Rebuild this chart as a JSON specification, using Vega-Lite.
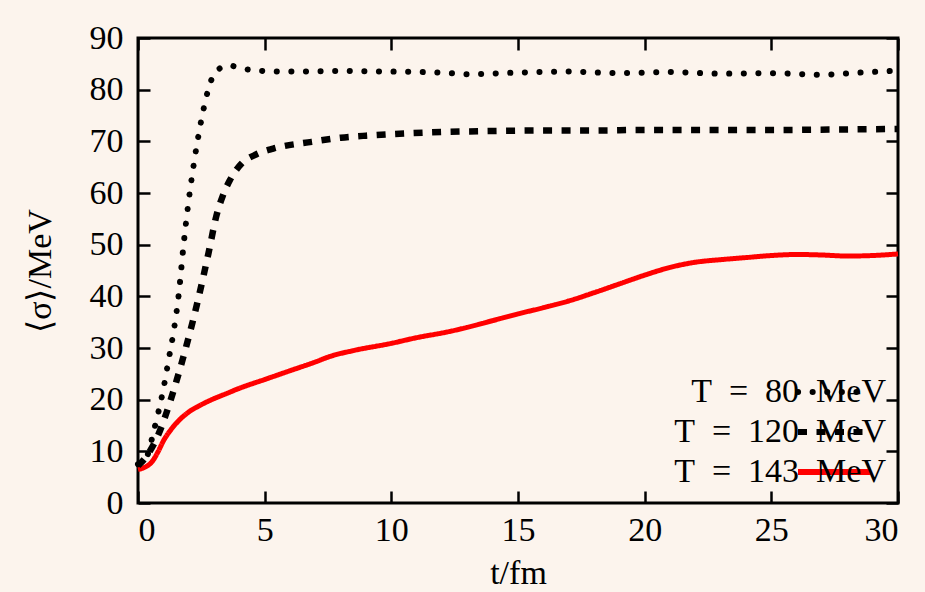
{
  "$schema": "https://vega.github.io/schema/vega-lite/v6.json",
  "width": 760,
  "height": 465,
  "autosize": {"type": "none"},
  "padding": {"left": 138, "top": 38, "right": 27, "bottom": 89},
  "background": "#fcf4ed",
  "config": {
    "view": {"stroke": "#000000", "strokeWidth": 3},
    "font": "Liberation Serif",
    "axis": {
      "domain": false, "grid": false,
      "tickColor": "#000000", "tickWidth": 2.5, "tickSize": -12,
      "labelFontSize": 34, "labelColor": "#000000", "labelFont": "Liberation Serif",
      "titleFontSize": 34, "titleColor": "#000000", "titleFont": "Liberation Serif", "titleFontWeight": "normal",
      "labelPadding": 27
    }
  },
  "data": {"values": [
    {"t": 0, "s": 7.5, "T": "T = 80 MeV"},
    {"t": 0.2, "s": 8.2, "T": "T = 80 MeV"},
    {"t": 0.4, "s": 9.6, "T": "T = 80 MeV"},
    {"t": 0.6, "s": 13.5, "T": "T = 80 MeV"},
    {"t": 0.8, "s": 17.5, "T": "T = 80 MeV"},
    {"t": 1.0, "s": 22, "T": "T = 80 MeV"},
    {"t": 1.2, "s": 27.5, "T": "T = 80 MeV"},
    {"t": 1.4, "s": 33, "T": "T = 80 MeV"},
    {"t": 1.6, "s": 40, "T": "T = 80 MeV"},
    {"t": 1.8, "s": 50, "T": "T = 80 MeV"},
    {"t": 2.0, "s": 58.5, "T": "T = 80 MeV"},
    {"t": 2.2, "s": 65.5, "T": "T = 80 MeV"},
    {"t": 2.4, "s": 71.5, "T": "T = 80 MeV"},
    {"t": 2.6, "s": 76.5, "T": "T = 80 MeV"},
    {"t": 2.8, "s": 80.5, "T": "T = 80 MeV"},
    {"t": 3.0, "s": 83, "T": "T = 80 MeV"},
    {"t": 3.3, "s": 84.3, "T": "T = 80 MeV"},
    {"t": 3.6, "s": 84.7, "T": "T = 80 MeV"},
    {"t": 4.0, "s": 84.2, "T": "T = 80 MeV"},
    {"t": 4.5, "s": 83.8, "T": "T = 80 MeV"},
    {"t": 5, "s": 83.6, "T": "T = 80 MeV"},
    {"t": 6, "s": 83.5, "T": "T = 80 MeV"},
    {"t": 8, "s": 83.6, "T": "T = 80 MeV"},
    {"t": 10, "s": 83.5, "T": "T = 80 MeV"},
    {"t": 12, "s": 83.3, "T": "T = 80 MeV"},
    {"t": 13, "s": 83.0, "T": "T = 80 MeV"},
    {"t": 15, "s": 83.3, "T": "T = 80 MeV"},
    {"t": 17, "s": 83.5, "T": "T = 80 MeV"},
    {"t": 19, "s": 83.2, "T": "T = 80 MeV"},
    {"t": 21, "s": 83.4, "T": "T = 80 MeV"},
    {"t": 23, "s": 83.1, "T": "T = 80 MeV"},
    {"t": 25, "s": 83.2, "T": "T = 80 MeV"},
    {"t": 27, "s": 82.9, "T": "T = 80 MeV"},
    {"t": 28.5, "s": 83.3, "T": "T = 80 MeV"},
    {"t": 30, "s": 83.7, "T": "T = 80 MeV"},
    {"t": 0, "s": 7.2, "T": "T = 120 MeV"},
    {"t": 0.4, "s": 9.5, "T": "T = 120 MeV"},
    {"t": 0.8, "s": 13.2, "T": "T = 120 MeV"},
    {"t": 1.07, "s": 16.7, "T": "T = 120 MeV"},
    {"t": 1.53, "s": 23.8, "T": "T = 120 MeV"},
    {"t": 1.92, "s": 30.6, "T": "T = 120 MeV"},
    {"t": 2.32, "s": 38.3, "T": "T = 120 MeV"},
    {"t": 2.78, "s": 48.3, "T": "T = 120 MeV"},
    {"t": 3.1, "s": 55.7, "T": "T = 120 MeV"},
    {"t": 3.35, "s": 59.5, "T": "T = 120 MeV"},
    {"t": 3.63, "s": 62.5, "T": "T = 120 MeV"},
    {"t": 4.09, "s": 65.7, "T": "T = 120 MeV"},
    {"t": 4.68, "s": 67.5, "T": "T = 120 MeV"},
    {"t": 5.34, "s": 68.6, "T": "T = 120 MeV"},
    {"t": 6.86, "s": 69.9, "T": "T = 120 MeV"},
    {"t": 8, "s": 70.7, "T": "T = 120 MeV"},
    {"t": 9, "s": 71.1, "T": "T = 120 MeV"},
    {"t": 10, "s": 71.4, "T": "T = 120 MeV"},
    {"t": 12, "s": 71.8, "T": "T = 120 MeV"},
    {"t": 14, "s": 72.0, "T": "T = 120 MeV"},
    {"t": 16, "s": 72.1, "T": "T = 120 MeV"},
    {"t": 18, "s": 72.1, "T": "T = 120 MeV"},
    {"t": 20, "s": 72.2, "T": "T = 120 MeV"},
    {"t": 22, "s": 72.2, "T": "T = 120 MeV"},
    {"t": 25, "s": 72.2, "T": "T = 120 MeV"},
    {"t": 28, "s": 72.3, "T": "T = 120 MeV"},
    {"t": 30, "s": 72.4, "T": "T = 120 MeV"},
    {"t": 0, "s": 6.5, "T": "T = 143 MeV"},
    {"t": 0.3, "s": 7.0, "T": "T = 143 MeV"},
    {"t": 0.54, "s": 7.9, "T": "T = 143 MeV"},
    {"t": 0.8, "s": 10, "T": "T = 143 MeV"},
    {"t": 1.0, "s": 12, "T": "T = 143 MeV"},
    {"t": 1.3, "s": 14.2, "T": "T = 143 MeV"},
    {"t": 1.66, "s": 16.2, "T": "T = 143 MeV"},
    {"t": 2.0, "s": 17.6, "T": "T = 143 MeV"},
    {"t": 2.45, "s": 18.9, "T": "T = 143 MeV"},
    {"t": 3.0, "s": 20.2, "T": "T = 143 MeV"},
    {"t": 3.5, "s": 21.2, "T": "T = 143 MeV"},
    {"t": 4.0, "s": 22.2, "T": "T = 143 MeV"},
    {"t": 5, "s": 23.9, "T": "T = 143 MeV"},
    {"t": 6, "s": 25.6, "T": "T = 143 MeV"},
    {"t": 7, "s": 27.3, "T": "T = 143 MeV"},
    {"t": 7.6, "s": 28.4, "T": "T = 143 MeV"},
    {"t": 8.5, "s": 29.5, "T": "T = 143 MeV"},
    {"t": 10, "s": 30.9, "T": "T = 143 MeV"},
    {"t": 11, "s": 32.0, "T": "T = 143 MeV"},
    {"t": 12.2, "s": 33.1, "T": "T = 143 MeV"},
    {"t": 13, "s": 34.0, "T": "T = 143 MeV"},
    {"t": 14, "s": 35.3, "T": "T = 143 MeV"},
    {"t": 15, "s": 36.6, "T": "T = 143 MeV"},
    {"t": 16, "s": 37.8, "T": "T = 143 MeV"},
    {"t": 17, "s": 39.1, "T": "T = 143 MeV"},
    {"t": 18, "s": 40.7, "T": "T = 143 MeV"},
    {"t": 19, "s": 42.4, "T": "T = 143 MeV"},
    {"t": 20, "s": 44.1, "T": "T = 143 MeV"},
    {"t": 21, "s": 45.6, "T": "T = 143 MeV"},
    {"t": 22, "s": 46.6, "T": "T = 143 MeV"},
    {"t": 23, "s": 47.1, "T": "T = 143 MeV"},
    {"t": 24, "s": 47.5, "T": "T = 143 MeV"},
    {"t": 25, "s": 47.9, "T": "T = 143 MeV"},
    {"t": 26, "s": 48.1, "T": "T = 143 MeV"},
    {"t": 27, "s": 48.0, "T": "T = 143 MeV"},
    {"t": 28, "s": 47.8, "T": "T = 143 MeV"},
    {"t": 29, "s": 47.9, "T": "T = 143 MeV"},
    {"t": 30, "s": 48.2, "T": "T = 143 MeV"}
  ]},
  "layer": [
    {
      "encoding": {
        "x": {"field": "t", "type": "quantitative", "scale": {"domain": [0, 30], "nice": false, "zero": false},
              "axis": {"orient": "bottom", "values": [0, 5, 10, 15, 20, 25, 30], "title": "t/fm", "titlePadding": 9, "labelPadding": 22}},
        "y": {"field": "s", "type": "quantitative", "scale": {"domain": [0, 90], "nice": false},
              "axis": {"orient": "left", "values": [0, 10, 20, 30, 40, 50, 60, 70, 80, 90], "title": "⟨σ⟩/MeV", "titlePadding": 32}},
        "color": {"field": "T", "type": "nominal",
          "scale": {"domain": ["T = 80 MeV", "T = 120 MeV", "T = 143 MeV"], "range": ["#000000", "#000000", "#ff0000"]},
          "legend": {
            "title": null, "orient": "none", "legendX": 410, "legendY": 337, "padding": 0,
            "symbolType": "stroke", "symbolSize": 5329, "symbolStrokeWidth": 6, "symbolOffset": 247,
            "clipHeight": 34, "rowPadding": 6,
            "labelAlign": "right", "labelOffset": 12, "labelFontSize": 34, "labelFont": "Liberation Serif",
            "labelColor": "#000000", "labelLimit": 0,
            "labelExpr": "replace(replace(datum.label, ' = ', '\u2002=\u2002'), ' MeV', '\u2002MeV') + '\u2003\u2003\u2003'",
            "encode": {"symbols": {"update": {
              "opacity": {"value": 1},
              "stroke": {"scale": "color", "field": "value"},
              "strokeDash": {"scale": "strokeDash", "field": "value"},
              "strokeWidth": {"value": 6},
              "strokeCap": {"signal": "datum.value == 'T = 80 MeV' ? 'round' : 'butt'"}}}}
          }},
        "strokeDash": {"field": "T", "type": "nominal",
          "scale": {"domain": ["T = 80 MeV", "T = 120 MeV", "T = 143 MeV"], "range": [[0.1, 14.5], [9, 9.5], [1, 0]]},
          "legend": {
            "title": null, "orient": "none", "legendX": 410, "legendY": 337, "padding": 0,
            "symbolType": "stroke", "symbolSize": 5329, "symbolStrokeWidth": 6, "symbolOffset": 247,
            "clipHeight": 34, "rowPadding": 6,
            "labelAlign": "right", "labelOffset": 12, "labelFontSize": 34, "labelFont": "Liberation Serif",
            "labelColor": "#000000", "labelLimit": 0,
            "labelExpr": "replace(replace(datum.label, ' = ', '\u2002=\u2002'), ' MeV', '\u2002MeV') + '\u2003\u2003\u2003'",
            "encode": {"symbols": {"update": {
              "opacity": {"value": 1},
              "stroke": {"scale": "color", "field": "value"},
              "strokeDash": {"scale": "strokeDash", "field": "value"},
              "strokeWidth": {"value": 6},
              "strokeCap": {"signal": "datum.value == 'T = 80 MeV' ? 'round' : 'butt'"}}}}
          }}
      },
      "layer": [
        {"transform": [{"filter": "datum.T == 'T = 143 MeV'"}],
         "mark": {"type": "line", "strokeWidth": 5, "interpolate": "monotone", "strokeCap": "butt"}},
        {"transform": [{"filter": "datum.T == 'T = 120 MeV'"}],
         "mark": {"type": "line", "strokeWidth": 6.5, "interpolate": "monotone", "strokeCap": "butt"}},
        {"transform": [{"filter": "datum.T == 'T = 80 MeV'"}],
         "mark": {"type": "line", "strokeWidth": 6, "interpolate": "monotone", "strokeCap": "round"}}
      ]
    },
    {
      "transform": [{"filter": "datum.T == 'T = 143 MeV'"}],
      "mark": {"type": "line", "opacity": 0},
      "encoding": {
        "x": {"field": "t", "type": "quantitative", "scale": {"domain": [0, 30], "nice": false, "zero": false},
              "axis": {"orient": "top", "values": [0, 5, 10, 15, 20, 25, 30], "labels": false, "title": null}},
        "y": {"field": "s", "type": "quantitative", "scale": {"domain": [0, 90], "nice": false},
              "axis": {"orient": "right", "values": [0, 10, 20, 30, 40, 50, 60, 70, 80, 90], "labels": false, "title": null}}
      }
    }
  ],
  "resolve": {"axis": {"x": "independent", "y": "independent"}}
}
